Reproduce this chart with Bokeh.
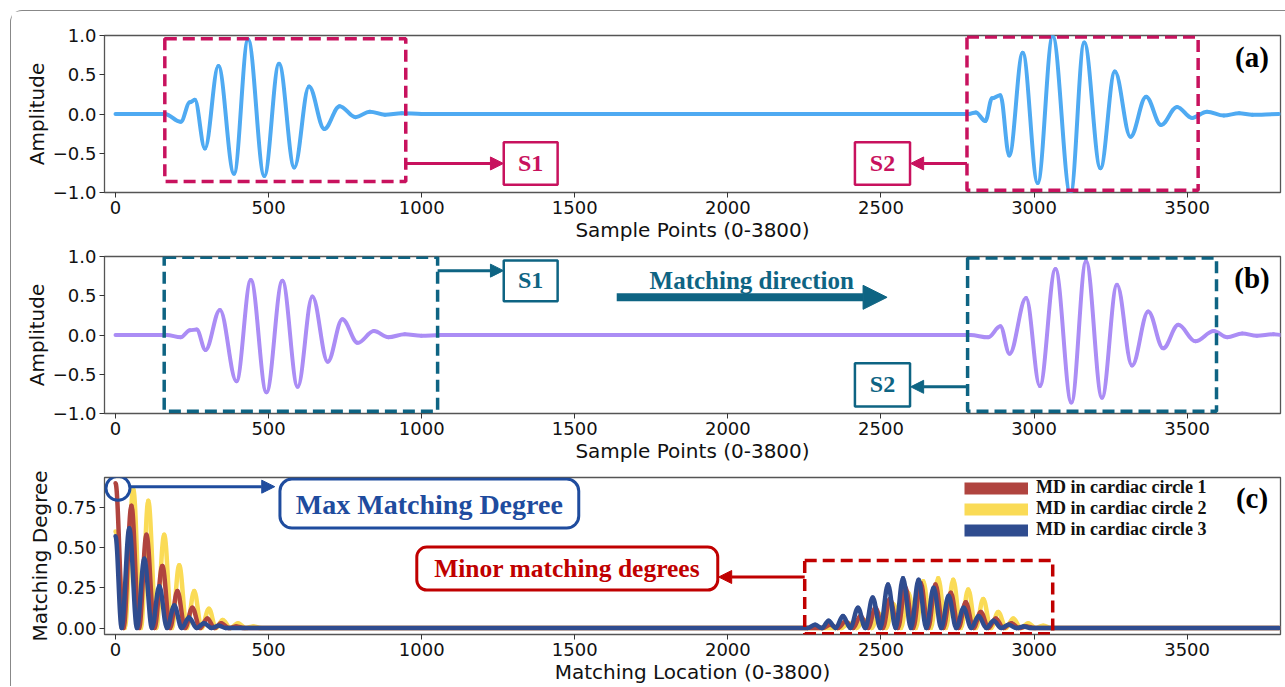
from bokeh.plotting import figure
from bokeh.models import (Range1d, FixedTicker, CustomJSTickFormatter, BoxAnnotation,
                          Arrow, NormalHead, Label, Legend, LegendItem, ColumnDataSource)
from bokeh.layouts import column
from bokeh.embed import file_html
from bokeh.resources import INLINE

# ---------------- data ----------------
x_ticks = [0, 500, 1000, 1500, 2000, 2500, 3000, 3500]
amp_ticks = [-1.0, -0.5, 0.0, 0.5, 1.0]
md_ticks = [0.0, 0.25, 0.5, 0.75]

# panel (a): extrema of the signal
sig_a_x = [0, 161, 213, 243, 259, 292, 336, 387, 433, 486,
           534, 584, 632, 682, 732, 784, 831, 880, 935, 1000,
           2787, 2810, 2841, 2863, 2890, 2919, 2963, 3012, 3061, 3119,
           3164, 3217, 3264, 3315, 3366, 3415, 3467, 3516, 3565, 3620,
           3670, 3713, 3800]
sig_a_y = [0, 0, -0.10, 0.15, 0.18, -0.44, 0.61, -0.76, 0.95, -0.79,
           0.64, -0.68, 0.35, -0.19, 0.10, -0.04, 0.03, -0.01, 0.01, 0,
           0, 0.02, -0.09, 0.20, 0.24, -0.53, 0.78, -0.88, 0.99, -1.02,
           0.91, -0.69, 0.54, -0.29, 0.22, -0.14, 0.09, -0.05, 0.03, -0.02,
           0.01, -0.01, 0]

# panel (b): extrema of the signal
sig_b_x = [0, 167, 213, 243, 265, 294, 341, 395, 442, 493,
           545, 595, 643, 693, 741, 791, 844, 891, 945, 999,
           1060, 2792, 2850, 2890, 2920, 2974, 3019, 3070, 3122, 3170,
           3222, 3271, 3320, 3373, 3422, 3471, 3527, 3587, 3631, 3680,
           3728, 3782, 3810]
sig_b_y = [0, 0, -0.03, 0.06, 0.07, -0.19, 0.32, -0.59, 0.70, -0.73,
           0.69, -0.66, 0.49, -0.34, 0.20, -0.10, 0.05, -0.03, 0.01, -0.01,
           0, 0, -0.03, 0.11, -0.24, 0.47, -0.65, 0.84, -0.86, 0.94,
           -0.80, 0.64, -0.39, 0.30, -0.17, 0.13, -0.08, 0.05, -0.03, 0.02,
           -0.01, 0.01, 0]

# panel (c): matching degree, peaks and troughs
md1_pts = [(0, 0.90), (26, 0), (52, 0.76), (77, 0), (101, 0.58), (127, 0), (153, 0.385),
           (178, 0), (202, 0.23), (227, 0), (251, 0.126), (276, 0), (300, 0.06), (323, 0),
           (345, 0.03), (370, 0), (394, 0.01), (420, 0), (2310, 0), (2334, 0.02), (2359, 0),
           (2384, 0.04), (2409, 0), (2433, 0.075), (2458, 0), (2482, 0.126), (2506, 0),
           (2529, 0.18), (2555, 0), (2580, 0.25), (2605, 0), (2630, 0.28), (2654, 0),
           (2678, 0.27), (2703, 0), (2728, 0.22), (2753, 0), (2777, 0.16), (2802, 0),
           (2826, 0.10), (2851, 0), (2875, 0.06), (2900, 0), (2926, 0.03), (2950, 0),
           (2975, 0.01), (3000, 0), (3800, 0)]
md2_pts = [(0, 0.60), (30, 0), (58, 0.86), (83, 0), (107, 0.79), (133, 0), (159, 0.58),
           (184, 0), (208, 0.39), (233, 0), (257, 0.23), (281, 0), (305, 0.12), (328, 0),
           (350, 0.05), (375, 0), (400, 0.03), (425, 0), (450, 0.01), (475, 0), (2370, 0),
           (2395, 0.03), (2420, 0), (2444, 0.05), (2469, 0), (2493, 0.09), (2517, 0),
           (2540, 0.15), (2565, 0), (2589, 0.22), (2614, 0), (2638, 0.29), (2663, 0),
           (2687, 0.31), (2712, 0), (2736, 0.30), (2761, 0), (2785, 0.24), (2810, 0),
           (2834, 0.18), (2859, 0), (2883, 0.10), (2908, 0), (2932, 0.06), (2957, 0),
           (2981, 0.03), (3005, 0), (3030, 0.015), (3055, 0), (3800, 0)]
md3_pts = [(0, 0.57), (20, 0), (45, 0.62), (70, 0), (94, 0.43), (119, 0), (143, 0.26),
           (168, 0), (192, 0.14), (216, 0), (240, 0.065), (265, 0), (289, 0.03), (314, 0),
           (338, 0.015), (360, 0), (2260, 0), (2285, 0.02), (2307, 0), (2329, 0.045),
           (2352, 0), (2376, 0.075), (2400, 0), (2425, 0.126), (2449, 0), (2473, 0.19),
           (2498, 0), (2523, 0.27), (2548, 0), (2572, 0.31), (2598, 0), (2623, 0.30),
           (2648, 0), (2672, 0.25), (2697, 0), (2721, 0.20), (2746, 0), (2770, 0.126),
           (2795, 0), (2819, 0.075), (2844, 0), (2868, 0.045), (2893, 0), (2917, 0.02),
           (2942, 0), (2966, 0.01), (2990, 0), (3800, 0)]
md_labels = ["MD in cardiac circle 1", "MD in cardiac circle 2", "MD in cardiac circle 3"]

# ---------------- styles ----------------
C_A = "#4FAAF2"
C_B = "#AB8DF5"
C_CRIM = "#C8125E"
C_TEAL = "#0E6483"
C_MAXB = "#1F4C9E"
C_MINR = "#C00000"
MD_COLORS = ["#B0443F", "#FADB56", "#2F4C8F"]
SERIF = "Liberation Serif"
SANS = "DejaVu Sans"
K = 0.36  # bezier handle fraction (smooth, sine-like half waves)


def seg_source(xs, ys):
    x0, x1, y0, y1 = xs[:-1], xs[1:], ys[:-1], ys[1:]
    cx0 = [a + K * (b - a) for a, b in zip(x0, x1)]
    cx1 = [b - K * (b - a) for a, b in zip(x0, x1)]
    return ColumnDataSource(dict(x0=x0, y0=y0, x1=x1, y1=y1, cx0=cx0, cy0=y0, cx1=cx1, cy1=y1))


def make_fig(height, top, bottom, y_range, xlabel, ylabel, yticks, dec):
    p = figure(width=1275, height=height, x_range=Range1d(-36, 3805), y_range=y_range,
               output_backend="svg", toolbar_location=None,
               min_border_left=93, min_border_right=6, min_border_top=top, min_border_bottom=bottom)
    p.xgrid.visible = False
    p.ygrid.visible = False
    p.outline_line_color = "#555555"
    p.outline_line_width = 1.3
    p.xaxis.ticker = FixedTicker(ticks=x_ticks)
    p.yaxis.ticker = FixedTicker(ticks=yticks)
    p.yaxis.formatter = CustomJSTickFormatter(code="return tick.toFixed(%d).replace('-', '\\u2212');" % dec)
    p.xaxis.axis_label = xlabel
    p.yaxis.axis_label = ylabel
    for ax in p.xaxis + p.yaxis:
        ax.axis_line_color = None
        ax.major_tick_out = 5
        ax.major_tick_in = 0
        ax.minor_tick_out = 0
        ax.minor_tick_in = 0
        ax.major_tick_line_color = "#333333"
        ax.major_label_text_font = SANS
        ax.major_label_text_font_size = "18px"
        ax.major_label_text_color = "#111111"
        ax.axis_label_text_font = SANS
        ax.axis_label_text_font_size = "20px"
        ax.axis_label_text_font_style = "normal"
        ax.axis_label_text_color = "#111111"
        ax.major_label_standoff = 3
        ax.axis_label_standoff = 1
    return p


def box(p, l, r, b, t, color, dash="solid", width=3.0, radius=0, fill=None):
    p.add_layout(BoxAnnotation(left=l, right=r, bottom=b, top=t, line_color=color, line_width=width,
                               line_alpha=1.0, line_dash=dash, border_radius=radius,
                               fill_color=fill if fill else "white", fill_alpha=1.0 if fill else 0.0))


def arrow(p, xs, ys, xe, ye, color, width=3.0, size=13):
    p.add_layout(Arrow(x_start=xs, y_start=ys, x_end=xe, y_end=ye, line_color=color, line_width=width,
                       end=NormalHead(size=size, fill_color=color, line_color=color, line_width=1)))


def label(p, x, y, text, color, size="24px", font=SERIF):
    p.add_layout(Label(x=x, y=y, text=text, text_align="center", text_baseline="middle",
                       text_font=font, text_font_style="bold", text_font_size=size, text_color=color))


# ---------------- panel (a) ----------------
fa = make_fig(235, 24, 54, Range1d(-1, 1), "Sample Points (0-3800)", "Amplitude", amp_ticks, 1)
fa.bezier(x0="x0", y0="y0", x1="x1", y1="y1", cx0="cx0", cy0="cy0", cx1="cx1", cy1="cy1",
          source=seg_source(sig_a_x, sig_a_y), line_color=C_A, line_width=4, line_cap="round")
box(fa, 161, 948, -0.86, 0.96, C_CRIM, dash="12 6", width=3.5)
box(fa, 2781, 3536, -0.97, 0.98, C_CRIM, dash="12 6", width=3.5)
arrow(fa, 948, -0.63, 1267, -0.63, C_CRIM)
arrow(fa, 2781, -0.63, 2597, -0.63, C_CRIM)
box(fa, 1268, 1444, -0.90, -0.36, C_CRIM, width=2.5, fill="white")
box(fa, 2415, 2595, -0.90, -0.36, C_CRIM, width=2.5, fill="white")
label(fa, 1356, -0.62, "S1", C_CRIM)
label(fa, 2505, -0.62, "S2", C_CRIM)
label(fa, 3712, 0.73, "(a)", "#000000", size="29px")

# ---------------- panel (b) ----------------
fb = make_fig(223, 10, 56, Range1d(-1, 1), "Sample Points (0-3800)", "Amplitude", amp_ticks, 1)
fb.bezier(x0="x0", y0="y0", x1="x1", y1="y1", cx0="cx0", cy0="cy0", cx1="cx1", cy1="cy1",
          source=seg_source(sig_b_x, sig_b_y), line_color=C_B, line_width=4, line_cap="round")
box(fb, 159, 1052, -0.97, 0.99, C_TEAL, dash="12 6", width=3.5)
box(fb, 2783, 3596, -0.97, 0.98, C_TEAL, dash="12 6", width=3.5)
arrow(fb, 1052, 0.82, 1267, 0.82, C_TEAL)
arrow(fb, 2783, -0.66, 2597, -0.66, C_TEAL)
box(fb, 1268, 1444, 0.43, 0.95, C_TEAL, width=2.5, fill="white")
box(fb, 2415, 2595, -0.91, -0.36, C_TEAL, width=2.5, fill="white")
label(fb, 1356, 0.70, "S1", C_TEAL)
label(fb, 2505, -0.62, "S2", C_TEAL)
arrow(fb, 1637, 0.48, 2520, 0.48, C_TEAL, width=8, size=24)
label(fb, 2078, 0.70, "Matching direction", C_TEAL, size="25px")
label(fb, 3712, 0.72, "(b)", "#000000", size="29px")

# ---------------- panel (c) ----------------
fc = make_fig(217, 8, 52, Range1d(-0.04, 0.935), "Matching Location (0-3800)", "Matching Degree", md_ticks, 2)
# drawing order: yellow under red, blue on top (as in the reference)
series = [md1_pts, md2_pts, md3_pts]
for idx in [1, 0, 2]:
    pts = series[idx]
    xs = [q[0] for q in pts]
    ys = [q[1] for q in pts]
    fc.bezier(x0="x0", y0="y0", x1="x1", y1="y1", cx0="cx0", cy0="cy0", cx1="cx1", cy1="cy1",
              source=seg_source(xs, ys), line_color=MD_COLORS[idx], line_width=4.5, line_cap="round")
legend_items = []
for col, lab in zip(MD_COLORS, md_labels):
    r = fc.line(x=[float("nan")], y=[float("nan")], line_color=col, line_width=12)
    legend_items.append(LegendItem(label=lab, renderers=[r]))
leg = Legend(items=legend_items, location=(860, 94), label_text_font=SERIF, label_text_font_style="bold",
             label_text_font_size="18px", label_text_color="#111111", glyph_width=64, glyph_height=16,
             label_height=16, spacing=0, padding=0, margin=0, border_line_alpha=0,
             background_fill_alpha=0, label_standoff=8)
fc.add_layout(leg)

fc.scatter(x=[8], y=[0.868], marker="circle", size=24, fill_alpha=0, line_color=C_MAXB, line_width=3)
arrow(fc, 46, 0.878, 520, 0.878, C_MAXB)
box(fc, 537, 1513, 0.621, 0.925, C_MAXB, width=3, radius=12, fill="white")
label(fc, 1025, 0.765, "Max Matching Degree", C_MAXB, size="28px")
box(fc, 2251, 3061, -0.035, 0.42, C_MINR, dash="12 6", width=3.5)
arrow(fc, 2251, 0.317, 1970, 0.317, C_MINR)
box(fc, 984, 1967, 0.236, 0.503, C_MINR, width=3, radius=10, fill="white")
label(fc, 1475, 0.37, "Minor matching degrees", C_MINR, size="25.5px")
label(fc, 3712, 0.81, "(c)", "#000000", size="29px")

p = column(fa, fb, fc, margin=(10, 0, 0, 10),
           styles={"border-top": "1px solid #888888", "border-left": "1px solid #888888",
                   "border-top-left-radius": "12px"})
open("out.html", "w").write(file_html(p, INLINE))
